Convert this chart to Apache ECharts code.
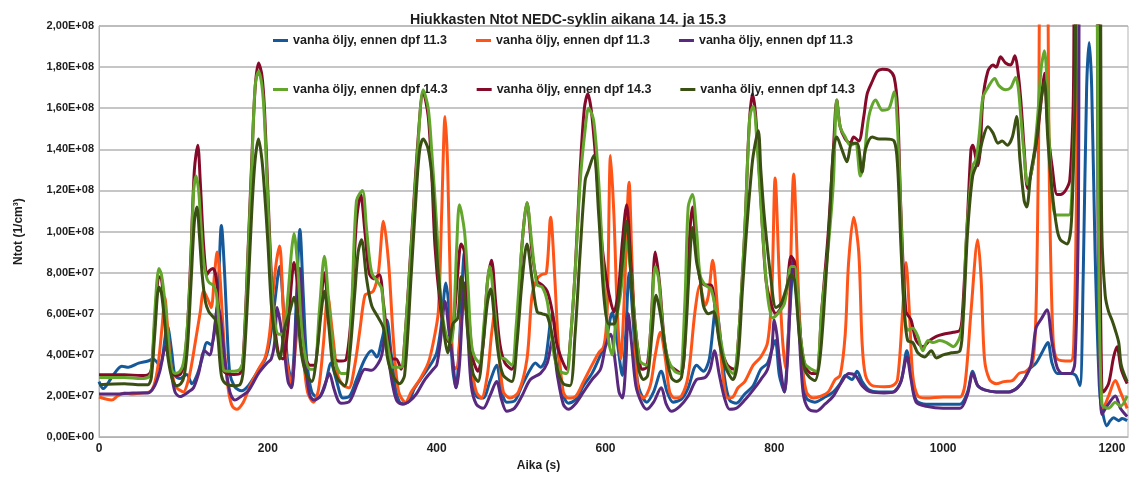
<!DOCTYPE html>
<html>
<head>
<meta charset="utf-8">
<script src="https://cdn.jsdelivr.net/npm/echarts@6/dist/echarts.min.js"></script>
<style>
  html, body { margin: 0; padding: 0; background: #fff; }
  #chart { width: 1136px; height: 477px; }
</style>
</head>
<body>
<div id="chart"></div>
<script>
// Particle number concentration over the NEDC cycle.
// Each run is a list of [time (s), Ntot in units of 1e7 1/cm³].

const run113a = [[0,2.7],[5,2.36],[15,2.9],[27,3.45],[35,3.4],[47,3.6],[58,3.7],[64,3.8],[72,3.5],[81,5.4],[86,4.2],[90,3.0],[96,2.85],[104,3.05],[110,2.6],[116,3.0],[122,3.8],[128,4.6],[133,4.5],[137,5.2],[141,7.0],[145,10.3],[149,7.8],[152,5.0],[155,3.1],[160,2.5],[165,2.3],[169,2.25],[177,2.5],[185,3.0],[191,3.4],[197,3.8],[202,4.6],[208,6.5],[214,8.3],[220,5.3],[224,3.5],[228,2.8],[231,4.0],[234,6.9],[238,10.1],[242,6.9],[246,3.8],[252,2.2],[260,1.9],[267,2.4],[275,3.6],[281,2.8],[289,1.9],[297,2.0],[305,2.8],[315,3.8],[323,4.2],[329,3.9],[335,4.7],[341,5.7],[346,4.1],[352,2.2],[358,1.65],[366,1.7],[374,2.4],[384,3.0],[394,3.6],[400,4.1],[405,5.3],[411,7.5],[415,6.1],[419,3.3],[423,2.4],[427,4.6],[433,9.0],[437,6.1],[441,3.0],[447,2.0],[455,1.9],[463,2.7],[471,3.5],[477,2.2],[483,1.7],[492,1.75],[501,2.5],[511,3.3],[517,3.6],[523,3.4],[529,3.8],[537,6.0],[543,4.6],[549,2.2],[556,1.65],[564,1.8],[574,2.5],[584,3.1],[592,3.8],[600,4.6],[608,6.05],[614,4.6],[620,3.0],[624,5.0],[628,8.0],[633,5.5],[637,3.0],[641,2.2],[649,1.7],[657,2.2],[666,3.2],[673,2.2],[680,1.7],[690,1.85],[698,2.4],[708,3.5],[716,3.2],[723,3.8],[731,6.3],[735,5.3],[741,2.9],[747,1.8],[755,1.65],[765,2.1],[775,2.5],[784,3.3],[792,3.6],[801,4.7],[806,3.0],[812,2.2],[816,4.6],[824,8.6],[828,7.0],[834,3.0],[838,1.9],[848,1.7],[860,1.95],[870,2.2],[878,2.6],[884,3.0],[892,2.8],[898,3.2],[904,2.7],[912,2.3],[924,2.2],[940,2.2],[950,2.7],[957,4.2],[962,3.0],[968,1.8],[980,1.6],[1000,1.6],[1020,1.6],[1029,2.2],[1035,3.2],[1041,2.5],[1049,2.3],[1063,2.2],[1078,2.2],[1088,2.4],[1096,2.8],[1102,3.3],[1110,3.6],[1117,4.1],[1124,4.6],[1129,3.6],[1135,3.1],[1141,3.1],[1151,3.1],[1157,3.0],[1162,2.5],[1166,8.0],[1170,17.0],[1173,19.2],[1176,17.0],[1180,9.0],[1185,2.5],[1188,1.4],[1194,0.55],[1198,0.8],[1202,0.94],[1208,0.8],[1212,0.9],[1218,0.8]];

const run113b = [[0,1.95],[8,1.85],[15,1.8],[22,2.0],[30,2.15],[40,2.1],[50,2.15],[60,2.2],[65,2.5],[70,3.5],[75,5.5],[78,6.8],[81,5.5],[85,3.6],[90,2.5],[95,2.3],[100,2.2],[106,2.8],[110,3.6],[114,4.6],[120,6.1],[124,7.1],[130,6.6],[133,6.3],[137,8.0],[140,9.0],[143,8.0],[146,6.0],[150,3.5],[154,2.1],[158,1.5],[163,1.35],[171,1.7],[179,2.5],[189,3.3],[197,3.9],[202,5.0],[206,6.9],[210,8.5],[214,9.3],[218,6.5],[222,3.8],[228,2.6],[233,4.5],[238,6.5],[242,4.0],[247,2.2],[254,1.7],[260,2.3],[266,4.6],[271,6.9],[276,5.3],[283,3.0],[290,2.5],[296,2.4],[303,3.5],[309,5.2],[315,6.9],[320,7.0],[325,7.1],[331,8.0],[337,10.5],[343,8.5],[349,4.6],[355,2.2],[363,1.7],[370,2.2],[380,2.8],[390,3.6],[396,4.6],[402,6.1],[406,11.0],[410,15.6],[413,13.2],[417,6.1],[421,3.3],[425,3.5],[429,5.5],[433,6.6],[437,5.5],[441,3.5],[447,2.2],[453,1.9],[460,3.0],[465,5.0],[469,6.1],[474,4.0],[479,2.2],[487,1.9],[497,2.2],[507,3.8],[513,6.9],[519,7.7],[524,7.9],[530,8.0],[535,10.7],[540,7.7],[544,4.6],[550,2.2],[556,1.9],[565,2.0],[574,2.7],[584,3.5],[592,4.1],[598,4.4],[602,6.1],[606,13.7],[610,10.8],[614,6.1],[618,3.8],[622,6.5],[628,12.4],[631,9.0],[635,4.6],[639,2.2],[645,1.9],[653,2.5],[659,4.0],[665,5.1],[671,3.8],[676,2.2],[682,1.9],[690,2.0],[698,3.0],[706,6.1],[712,7.4],[718,6.4],[722,6.9],[727,8.6],[733,6.1],[739,3.0],[745,1.9],[751,1.95],[757,2.4],[765,2.7],[775,3.5],[784,3.9],[792,4.6],[797,7.0],[801,12.6],[806,7.7],[810,4.6],[814,3.3],[818,6.5],[823,12.8],[828,7.7],[832,4.0],[838,2.2],[846,1.9],[856,2.0],[864,2.2],[872,2.8],[878,3.0],[884,5.0],[888,8.5],[894,10.7],[900,9.0],[904,4.6],[908,3.0],[916,2.5],[930,2.45],[940,2.5],[946,2.8],[952,6.1],[956,8.5],[960,6.1],[964,3.0],[970,2.0],[980,1.9],[1000,1.95],[1010,1.95],[1020,1.95],[1026,2.6],[1033,6.1],[1041,9.6],[1045,7.7],[1049,3.8],[1055,2.8],[1063,2.6],[1072,2.7],[1082,2.75],[1090,3.1],[1098,3.2],[1106,3.6],[1110,6.1],[1113,14],[1116,24],[1122,24],[1126,12],[1130,5.0],[1135,3.8],[1151,3.7],[1155,5.0],[1158,12],[1161,25],[1181,25],[1185,8],[1190,1.4],[1196,2.0],[1204,2.75],[1210,2.2],[1218,1.4]];

const run113c = [[0,2.1],[20,2.1],[40,2.15],[58,2.15],[66,2.5],[72,3.2],[79,4.4],[84,3.5],[90,2.2],[96,1.97],[106,2.2],[112,2.4],[118,3.1],[125,4.2],[131,4.0],[135,4.7],[141,6.4],[145,5.5],[149,3.8],[155,2.2],[161,1.8],[169,2.0],[177,2.25],[189,3.1],[199,3.6],[204,3.8],[208,4.6],[211,6.3],[215,5.5],[220,4.0],[224,2.7],[228,2.4],[231,3.5],[234,6.1],[238,8.2],[242,5.0],[246,3.0],[250,2.0],[255,1.8],[262,2.0],[268,2.6],[273,3.1],[278,2.4],[283,1.8],[287,1.65],[297,1.75],[307,2.7],[315,3.3],[323,3.25],[331,3.6],[335,4.0],[339,4.9],[343,3.8],[348,2.5],[353,1.75],[360,1.6],[368,1.75],[376,2.1],[386,2.8],[396,3.3],[400,3.5],[404,4.5],[410,6.6],[415,5.0],[419,3.8],[423,2.4],[427,3.5],[433,7.5],[437,5.0],[441,2.5],[447,1.6],[455,1.4],[463,2.0],[471,2.7],[477,1.8],[483,1.26],[492,1.4],[501,2.0],[511,2.8],[523,3.1],[531,3.6],[537,4.7],[543,3.0],[550,1.6],[556,1.35],[564,1.6],[574,2.2],[584,2.8],[594,3.3],[600,4.4],[606,5.0],[612,3.5],[616,2.2],[620,1.9],[624,3.5],[627,6.0],[631,4.5],[636,2.5],[643,1.65],[649,1.35],[657,1.7],[666,2.4],[672,1.6],[678,1.26],[688,1.5],[698,2.0],[708,2.8],[718,2.9],[724,3.3],[729,4.2],[735,3.0],[741,1.9],[747,1.35],[755,1.4],[765,1.8],[775,2.3],[784,2.8],[792,3.3],[797,4.3],[800,5.7],[803,5.0],[806,3.8],[812,2.2],[816,4.0],[822,8.6],[828,6.0],[834,2.2],[840,1.4],[850,1.26],[860,1.6],[870,2.0],[880,2.7],[888,3.1],[896,3.0],[904,2.5],[914,2.2],[930,2.15],[942,2.2],[950,2.7],[957,3.9],[962,2.8],[968,1.7],[980,1.5],[1000,1.4],[1020,1.4],[1029,2.1],[1035,3.1],[1041,2.5],[1049,2.3],[1063,2.2],[1078,2.2],[1088,2.4],[1096,2.8],[1104,3.5],[1110,5.3],[1117,5.8],[1123,6.2],[1129,4.6],[1135,3.4],[1141,3.1],[1151,3.1],[1156,3.6],[1160,10],[1163,25],[1180,25],[1184,8],[1188,1.1],[1194,1.5],[1204,2.0],[1210,1.4],[1218,1.0]];

const run143a = [[0,2.9],[30,2.9],[50,2.85],[58,2.9],[62,3.2],[66,6.0],[71,8.2],[74,7.9],[78,6.6],[82,4.6],[86,3.3],[90,3.1],[96,3.2],[100,3.6],[104,5.0],[108,7.7],[112,11.9],[115,12.7],[118,12.0],[120,10.8],[124,8.5],[128,7.7],[131,7.5],[135,7.4],[139,7.0],[143,5.0],[147,3.3],[151,3.2],[160,3.2],[167,3.3],[171,3.8],[177,9.3],[181,13.2],[185,17.1],[189,17.8],[193,17.1],[196,15.5],[200,11.5],[204,7.7],[208,5.7],[213,5.0],[218,5.0],[223,6.5],[228,9.0],[231,9.9],[235,8.5],[240,5.3],[245,3.8],[250,3.3],[255,3.3],[261,6.1],[267,8.8],[273,6.1],[279,3.8],[287,3.1],[293,3.1],[299,6.1],[305,11.5],[312,12.0],[317,10.1],[323,8.0],[331,7.5],[335,7.2],[339,5.3],[345,3.8],[348,3.4],[358,3.4],[362,4.6],[370,9.3],[378,14.3],[384,16.9],[390,16.0],[394,14.0],[400,10.3],[405,6.6],[411,5.0],[417,4.6],[420,5.5],[424,9.5],[427,11.3],[433,10.0],[437,7.5],[441,4.6],[445,3.9],[451,3.6],[456,5.5],[463,8.3],[469,6.1],[475,3.9],[481,3.8],[489,3.5],[494,5.3],[501,9.3],[507,11.4],[513,9.3],[519,7.4],[525,7.3],[531,6.6],[535,5.3],[540,3.8],[546,3.2],[554,3.1],[558,4.5],[564,8.0],[570,12.4],[576,15.0],[580,16.0],[586,15.4],[592,12.4],[598,7.7],[604,4.6],[608,4.0],[612,5.5],[618,7.0],[625,9.5],[630,8.0],[635,5.5],[640,3.8],[643,3.6],[649,3.5],[654,5.5],[659,8.3],[663,7.7],[668,5.3],[674,3.8],[682,3.2],[688,3.1],[694,6.5],[698,11.2],[703,11.8],[708,10.0],[712,7.9],[718,7.4],[725,7.2],[731,6.1],[737,4.6],[743,3.5],[751,3.1],[757,4.5],[765,10.1],[771,15.6],[775,16.1],[780,14.0],[786,10.1],[792,6.9],[798,5.8],[804,6.0],[812,6.5],[820,8.3],[824,8.3],[830,5.3],[836,3.6],[844,3.3],[850,3.2],[856,6.1],[864,9.3],[870,12.4],[874,16.4],[878,15.1],[884,14.6],[890,14.2],[896,14.3],[902,12.7],[906,13.4],[912,15.6],[920,16.4],[928,15.9],[936,16.0],[942,16.8],[946,15.0],[950,10.8],[954,6.1],[958,5.2],[964,5.3],[970,4.9],[976,4.2],[982,4.7],[988,4.6],[996,4.7],[1004,4.6],[1012,4.4],[1020,4.9],[1024,6.0],[1027,9.3],[1031,11.6],[1035,13.2],[1039,13.5],[1043,14.8],[1047,16.5],[1053,17.0],[1061,17.45],[1066,17.1],[1074,16.9],[1080,17.0],[1086,17.5],[1089,17.0],[1092,15.6],[1096,13.7],[1100,12.3],[1106,13.2],[1112,15.6],[1116,17.9],[1120,18.8],[1124,16.4],[1127,13.2],[1133,10.8],[1141,10.8],[1149,10.8],[1153,12.4],[1157,18],[1160,25],[1180,25],[1184,10],[1188,1.6],[1196,1.4],[1204,1.7],[1210,1.5],[1218,2.0]];

const run143b = [[0,3.03],[30,3.03],[50,3.0],[58,3.03],[62,3.3],[66,5.5],[71,7.8],[74,7.7],[78,6.0],[82,4.2],[87,3.1],[92,3.0],[97,3.1],[101,3.6],[105,5.5],[109,9.0],[113,13.0],[117,14.2],[120,12.4],[124,9.3],[128,7.9],[131,8.1],[135,8.2],[139,7.7],[143,5.3],[147,3.3],[151,3.1],[160,3.05],[167,3.1],[171,4.0],[177,9.5],[181,13.5],[185,17.0],[189,18.2],[193,17.6],[196,16.0],[200,12.0],[204,8.0],[208,5.5],[213,4.0],[218,3.8],[223,5.0],[228,7.5],[231,8.5],[235,7.5],[240,5.0],[245,3.8],[250,3.5],[255,3.5],[261,5.5],[267,8.0],[273,5.5],[279,3.8],[287,3.7],[293,3.8],[299,6.0],[305,10.5],[310,11.8],[315,10.0],[320,8.0],[325,7.7],[332,7.9],[337,6.5],[342,4.8],[348,3.8],[352,3.8],[358,3.3],[362,4.6],[370,9.5],[378,14.5],[384,16.8],[390,15.6],[394,13.0],[398,9.3],[404,6.5],[410,5.0],[415,4.6],[420,5.5],[425,8.0],[429,9.4],[433,9.0],[437,6.5],[443,3.8],[449,3.2],[455,4.5],[460,7.5],[465,8.6],[470,6.5],[475,4.5],[481,3.6],[489,3.3],[495,5.0],[501,9.3],[507,11.4],[513,9.0],[519,7.6],[525,7.4],[531,7.1],[537,6.1],[542,4.6],[548,3.8],[554,3.3],[558,4.5],[564,8.0],[570,13.0],[575,16.0],[579,16.7],[584,15.6],[592,11.6],[596,9.3],[600,8.0],[604,7.0],[610,6.1],[615,7.0],[620,9.5],[625,11.3],[630,8.5],[635,5.5],[640,3.8],[643,3.3],[649,3.4],[654,5.5],[659,9.0],[664,7.5],[670,4.6],[676,3.5],[682,3.3],[690,3.1],[696,6.5],[700,10.0],[703,11.2],[708,9.0],[712,7.7],[718,7.4],[725,7.4],[731,5.8],[737,4.3],[743,3.6],[747,3.4],[753,3.3],[757,4.5],[765,10.0],[770,15.0],[774,16.7],[778,15.6],[784,11.6],[790,7.7],[796,6.5],[802,6.0],[808,6.3],[814,7.0],[820,8.8],[824,8.5],[830,5.3],[836,3.5],[844,3.1],[850,3.1],[856,6.1],[864,10.0],[870,14.0],[874,16.4],[878,15.1],[884,14.5],[890,14.3],[894,14.6],[900,14.4],[906,15.6],[910,16.7],[916,17.3],[922,17.8],[928,17.9],[936,17.85],[942,17.5],[946,16.0],[950,11.0],[956,6.1],[962,5.7],[968,4.7],[976,4.4],[984,4.7],[992,4.9],[1000,5.0],[1012,5.1],[1020,5.2],[1023,6.1],[1029,10.8],[1033,14.0],[1035,14.2],[1041,13.2],[1044,14.0],[1047,16.4],[1053,17.8],[1059,18.1],[1063,18.0],[1068,18.5],[1074,18.2],[1080,18.1],[1085,18.55],[1088,18.0],[1092,16.4],[1096,14.0],[1100,12.1],[1106,13.2],[1112,14.8],[1118,17.1],[1120,17.7],[1124,15.0],[1129,13.2],[1135,11.8],[1139,11.8],[1145,12.0],[1150,12.5],[1154,16],[1158,25],[1182,25],[1186,8],[1190,2.2],[1196,2.6],[1202,3.9],[1206,4.4],[1211,3.3],[1218,2.6]];

const run143c = [[0,2.55],[30,2.6],[50,2.55],[58,2.55],[62,2.9],[66,5.0],[71,7.3],[74,7.0],[78,5.5],[82,3.8],[87,2.8],[92,2.5],[97,2.6],[101,3.0],[105,4.5],[109,7.5],[113,10.5],[116,11.2],[119,9.8],[122,8.0],[126,6.6],[130,6.1],[134,5.9],[138,5.7],[141,4.8],[145,3.0],[150,2.6],[160,2.5],[167,2.55],[171,3.3],[177,7.5],[181,11.0],[185,13.5],[189,14.5],[193,13.5],[196,12.0],[200,9.5],[204,6.5],[208,5.0],[214,3.8],[220,5.3],[226,6.1],[231,6.8],[235,6.0],[240,4.0],[246,3.0],[252,2.7],[258,4.0],[263,6.0],[267,7.1],[272,5.5],[277,3.5],[283,2.8],[291,2.5],[297,4.0],[303,7.0],[307,9.0],[311,9.6],[317,7.7],[323,6.4],[331,5.8],[337,5.3],[342,3.8],[348,3.0],[356,2.6],[362,3.0],[370,8.0],[376,12.0],[380,14.0],[384,14.5],[390,14.0],[395,12.4],[400,9.0],[404,7.0],[409,5.0],[413,4.1],[419,5.5],[425,5.8],[429,7.8],[433,7.0],[437,5.0],[443,3.1],[449,2.7],[455,4.5],[460,6.5],[464,7.2],[469,5.5],[474,3.8],[479,3.0],[489,2.7],[495,4.5],[501,7.5],[507,9.4],[513,7.7],[519,6.1],[525,6.0],[531,5.9],[537,4.9],[543,3.3],[550,2.6],[558,2.5],[564,5.0],[570,9.0],[576,12.5],[580,13.0],[586,13.7],[592,10.8],[598,6.9],[604,5.5],[610,5.5],[615,6.5],[620,8.5],[625,10.5],[630,8.0],[635,5.0],[640,3.2],[645,2.8],[650,3.0],[655,5.0],[660,6.9],[665,6.0],[672,4.0],[678,2.9],[684,2.7],[690,2.9],[695,5.0],[699,8.0],[703,10.2],[708,8.5],[712,7.7],[716,6.4],[722,6.0],[728,6.1],[735,4.6],[741,3.5],[747,3.0],[751,2.8],[757,3.8],[762,7.0],[767,10.0],[772,12.5],[775,13.7],[781,14.9],[784,13.0],[788,10.8],[796,7.7],[802,6.3],[808,6.5],[814,7.2],[820,7.9],[824,7.6],[830,4.8],[836,3.3],[842,2.9],[848,2.75],[854,3.8],[860,7.0],[866,11.0],[870,14.0],[874,14.6],[880,14.0],[886,13.4],[892,14.3],[898,14.3],[904,12.9],[908,14.0],[916,14.6],[924,14.5],[932,14.5],[942,14.4],[946,13.2],[950,9.3],[954,6.1],[958,4.7],[964,4.6],[970,4.1],[978,3.9],[986,4.2],[992,3.85],[1000,4.0],[1010,4.1],[1020,4.2],[1024,6.0],[1029,10.0],[1035,12.7],[1041,13.4],[1047,14.5],[1053,15.1],[1059,14.8],[1065,14.3],[1070,14.4],[1076,14.2],[1082,14.6],[1087,15.6],[1091,13.5],[1096,11.5],[1099,11.2],[1104,12.9],[1110,14.3],[1116,16.4],[1120,17.3],[1124,14.5],[1129,12.0],[1135,10.1],[1139,9.6],[1147,9.4],[1152,10.5],[1156,16],[1160,25],[1184,25],[1188,10],[1192,6.9],[1196,6.1],[1200,5.7],[1204,5.2],[1208,4.6],[1211,3.5],[1218,2.7]];

const runLabels = [
  'vanha öljy, ennen dpf 11.3',
  'vanha öljy, ennen dpf 11.3',
  'vanha öljy, ennen dpf 11.3',
  'vanha öljy, ennen dpf 14.3',
  'vanha öljy, ennen dpf 14.3',
  'vanha öljy, ennen dpf 14.3'
];
const runColors = ['#15599b', '#ff5418', '#58297f', '#62a62c', '#850a2a', '#3a4f12'];
// Stacking order of the lines (higher is drawn on top)
const runLayer = [2, 2, 2, 4, 3, 4];
const runs = [run113a, run113b, run113c, run143a, run143b, run143c];
const UNIT = 1e7;

const FONT = '"Liberation Sans", Arial, sans-serif';

// Several runs share a label, so each series gets a unique key and the legend strips it.
const seriesKeys = runLabels.map((label, i) => label + '#' + i);

// "2,00E+08" style tick labels
function sciLabel(v) {
  const parts = v.toExponential(2).split('e');
  const exp = parseInt(parts[1], 10);
  return parts[0].replace('.', ',') + 'E' + (exp < 0 ? '-' : '+') + String(Math.abs(exp)).padStart(2, '0');
}

const legendBase = {
  left: 268,
  orient: 'horizontal',
  icon: 'rect',
  itemWidth: 15,
  itemHeight: 3,
  itemGap: 29,
  selectedMode: false,
  formatter: name => name.split('#')[0],
  textStyle: { fontFamily: FONT, fontSize: 12.5, fontWeight: 'bold', color: '#1e1e1e' }
};

const chart = echarts.init(document.getElementById('chart'), null, { renderer: 'canvas' });

chart.setOption({
  animation: false,
  backgroundColor: '#ffffff',
  title: {
    text: 'Hiukkasten Ntot NEDC-syklin aikana 14. ja 15.3',
    left: 'center',
    top: 8,
    textStyle: { fontFamily: FONT, fontSize: 14.2, fontWeight: 'bold', color: '#1e1e1e' }
  },
  legend: [
    Object.assign({}, legendBase, { top: 29, data: seriesKeys.slice(0, 3) }),
    Object.assign({}, legendBase, { top: 78, data: seriesKeys.slice(3) })
  ],
  grid: {
    left: 99, right: 8, top: 26, bottom: 27,
    show: true, borderColor: '#b3b3b3', borderWidth: 1
  },
  xAxis: {
    type: 'value',
    min: 0, max: 1219, interval: 200,
    name: 'Aika (s)',
    nameLocation: 'middle',
    nameGap: 16,
    nameTextStyle: { fontFamily: FONT, fontSize: 12, fontWeight: 'bold', color: '#1e1e1e', padding: [0, 150, 0, 0] },
    axisLine: { show: true, lineStyle: { color: '#b3b3b3', width: 1 } },
    axisTick: { show: false },
    splitLine: { show: false },
    axisLabel: {
      showMaxLabel: false, margin: 6,
      formatter: v => String(v),
      fontFamily: FONT, fontSize: 12, fontWeight: 'bold', color: '#1e1e1e'
    }
  },
  yAxis: {
    type: 'value',
    min: 0, max: 2e8, interval: 2e7,
    name: 'Ntot (1/cm³)',
    nameLocation: 'middle',
    nameRotate: 90,
    nameGap: 74,
    nameTextStyle: { fontFamily: FONT, fontSize: 12, fontWeight: 'bold', color: '#1e1e1e' },
    axisLine: { show: true, lineStyle: { color: '#b3b3b3', width: 1 } },
    axisTick: { show: false },
    splitLine: { show: true, lineStyle: { color: '#b3b3b3', width: 1.5 } },
    axisLabel: { formatter: sciLabel, margin: 5, fontFamily: FONT, fontSize: 11, fontWeight: 'bold', color: '#1e1e1e' }
  },
  series: runs.map((run, i) => ({
    type: 'line',
    name: seriesKeys[i],
    data: run.map(p => [p[0], p[1] * UNIT]),
    z: runLayer[i],
    showSymbol: false,
    smooth: 0.3,
    clip: true,
    color: runColors[i],
    lineStyle: { width: 3, color: runColors[i] }
  }))
});
</script>
</body>
</html>
